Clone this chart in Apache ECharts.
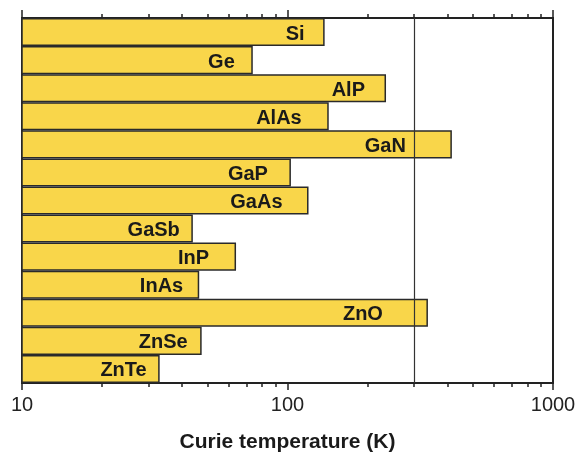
<!DOCTYPE html>
<html><head><meta charset="utf-8">
<script src="https://cdn.jsdelivr.net/npm/echarts@6/dist/echarts.min.js"></script>
<style>html,body{margin:0;padding:0;background:#fff}#c{width:579px;height:459px}</style>
</head><body><div id="c"></div>
<script>
const categories = ['Si','Ge','AlP','AlAs','GaN','GaP','GaAs','GaSb','InP','InAs','ZnO','ZnSe','ZnTe'];
const curieTemps = [138, 74, 235, 143, 416, 103, 120, 44, 64, 46.5, 338, 47.5, 33];
const majorTicks = [10, 100, 1000];
const minorTicks = [20,30,40,50,60,70,80,90,200,300,400,500,600,700,800,900];
const roomTemp = 300;
// label gap from bar end (style only)
const labelGaps = [20, 18, 21, 27, 46, 23, 26, 13, 27, 16, 45, 14, 13];

const font = 'Liberation Sans, Arial, Helvetica, sans-serif';
const lineStyle = {color:'#222', width:2};
function xAx(pos, ticks, len, showLabel, name){
  return {
    type:'log', logBase:10, min:10, max:1000, position:pos,
    axisLine:{show:true, onZero:false, lineStyle},
    axisTick:{show:true, length:len, customValues:ticks, lineStyle:{color:'#222', width:1.5}},
    axisLabel:{show:showLabel, customValues:majorTicks, formatter:v=>String(v),
      color:'#222', fontFamily:font, fontSize:20, margin:12},
    splitLine:{show:false}, minorTick:{show:false},
    name: name||'', nameLocation:'middle', nameGap:49,
    nameTextStyle:{fontFamily:font, fontSize:21, fontWeight:'bold', color:'#1a1a1a'}
  };
}
const chart = echarts.init(document.getElementById('c'), null, {renderer:'canvas'});
chart.setOption({
  animation:false,
  grid:{left:22, right:26, top:18, bottom:76},
  xAxis:[
    xAx('bottom', majorTicks, 7, true, 'Curie temperature (K)'),
    xAx('bottom', minorTicks, 4, false),
    xAx('top', majorTicks, 8, false),
    xAx('top', minorTicks, 4, false)
  ],
  yAxis:[
    {type:'category', data:categories, inverse:true, position:'left',
     axisLine:{show:true, lineStyle}, axisTick:{show:false}, axisLabel:{show:false}},
    {type:'category', data:categories, inverse:true, position:'right',
     axisLine:{show:true, lineStyle}, axisTick:{show:false}, axisLabel:{show:false}}
  ],
  series:[{
    type:'bar', xAxisIndex:0, yAxisIndex:0, barCategoryGap:0, clip:true,
    data: curieTemps.map((v,i)=>({value:v, label:{distance:labelGaps[i]}})),
    itemStyle:{color:'#F9D64A', borderColor:'#2a2a2a', borderWidth:1.5},
    label:{show:true, position:'insideRight', formatter:p=>categories[p.dataIndex],
      fontFamily:font, fontSize:20, fontWeight:'bold', color:'#1a1a1a', offset:[0,2]},
    markLine:{silent:true, symbol:'none', label:{show:false},
      lineStyle:{color:'#333', width:1.2, type:'solid'},
      data:[{xAxis:roomTemp}]}
  }]
});
</script></body></html>
